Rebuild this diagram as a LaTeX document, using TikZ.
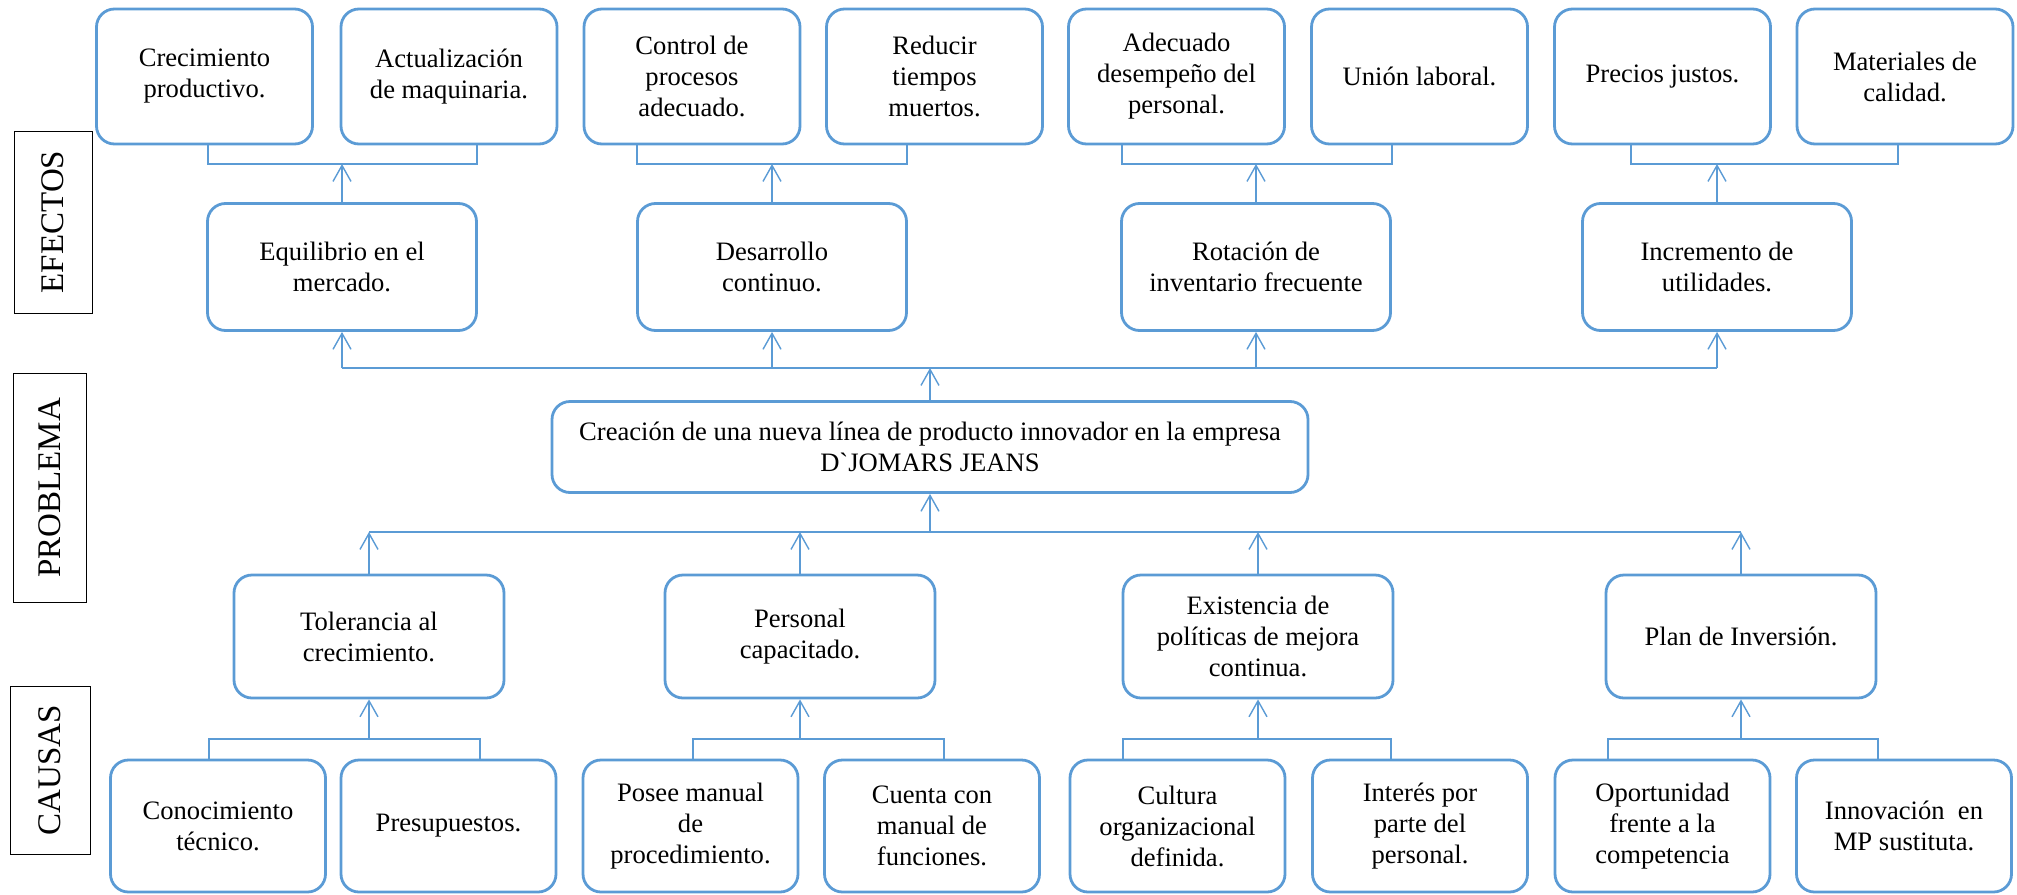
\documentclass[tikz,border=0pt]{standalone}
\usepackage{fontspec}
\setmainfont{Liberation Serif}[Ligatures=TeXOff]
\usetikzlibrary{arrows.meta}
\definecolor{boxblue}{RGB}{91,155,213}

\begin{document}
\begin{tikzpicture}[x=0.5pt,y=-0.5pt,
  card/.style={draw=boxblue,line width=1.4pt,rounded corners=9pt,align=center,inner sep=0pt,font=\fontsize{13.3}{15.5}\selectfont},
  topcard/.style={card,minimum width=108pt,minimum height=67.5pt},
  effcard/.style={card,minimum width=134.5pt,minimum height=63.5pt},
  caucard/.style={card,minimum width=135pt,minimum height=61.5pt},
  botcard/.style={card,minimum width=107.5pt,minimum height=66pt},
  side/.style={draw,line width=0.5pt,rotate=90,inner sep=0pt,font=\fontsize{16.5}{18}\selectfont},
  link/.style={draw=boxblue,line width=0.7pt},
  arr/.style={link,-{Straight Barb[length=8pt,width=9pt]}}]
  \useasboundingbox (0,0) rectangle (2017,894);
  % side labels
  \node[side,minimum width=91pt,minimum height=39pt] (lefe) at (53,222) {EFECTOS};
  \node[side,minimum width=114.5pt,minimum height=36.5pt] (lpro) at (50,488) {PROBLEMA};
  \node[side,minimum width=84pt,minimum height=40pt] (lcau) at (50,770) {CAUSAS};
  % effects, top row
  \node[topcard] (t1) at (204.5,76.5) {Crecimiento\\productivo.};
  \node[topcard] (t2) at (449,76.5) {Actualización\\de maquinaria.};
  \node[topcard] (t3) at (692,76.5) {Control de\\procesos\\adecuado.};
  \node[topcard] (t4) at (934.5,76.5) {Reducir\\tiempos\\muertos.};
  \node[topcard] (t5) at (1176.5,76.5) {Adecuado\\desempeño del\\personal.};
  \node[topcard] (t6) at (1419.5,76.5) {Unión laboral.};
  \node[topcard] (t7) at (1662.5,76.5) {Precios justos.};
  \node[topcard] (t8) at (1905,76.5) {Materiales de\\calidad.};
  % effects
  \node[effcard] (e1) at (342,267) {Equilibrio en el\\mercado.};
  \node[effcard] (e2) at (772,267) {Desarrollo\\continuo.};
  \node[effcard] (e3) at (1256,267) {Rotación de\\inventario frecuente};
  \node[effcard] (e4) at (1717,267) {Incremento de\\utilidades.};
  % problem
  \node[card,minimum width=378pt,minimum height=45.5pt] (prob) at (930,447) {Creación de una nueva línea de producto innovador en la empresa\\D`JOMARS JEANS};
  % causes
  \node[caucard] (c1) at (369,636.5) {Tolerancia al\\crecimiento.};
  \node[caucard] (c2) at (800,636.5) {Personal\\capacitado.};
  \node[caucard] (c3) at (1258,636.5) {Existencia de\\políticas de mejora\\continua.};
  \node[caucard] (c4) at (1741,636.5) {Plan de Inversión.};
  % causes, bottom row
  \node[botcard] (b1) at (218,826) {Conocimiento\\técnico.};
  \node[botcard] (b2) at (448.5,826) {Presupuestos.};
  \node[botcard] (b3) at (690.5,826) {Posee manual\\de\\procedimiento.};
  \node[botcard] (b4) at (932,826) {Cuenta con\\manual de\\funciones.};
  \node[botcard] (b5) at (1177.5,826) {Cultura\\organizacional\\definida.};
  \node[botcard] (b6) at (1420,826) {Interés por\\parte del\\personal.};
  \node[botcard] (b7) at (1662.5,826) {Oportunidad\\frente a la\\competencia};
  \node[botcard] (b8) at (1904,826) {Innovación\ \ en\\MP sustituta.};
  % brackets under the top row
  \coordinate (e1l) at (208,164); \coordinate (e1r) at (477,164);
  \coordinate (e2l) at (637,164); \coordinate (e2r) at (907,164);
  \coordinate (e3l) at (1122,164); \coordinate (e3r) at (1392,164);
  \coordinate (e4l) at (1631,164); \coordinate (e4r) at (1898,164);
  \draw[link] (t1.south -| e1l) -- (e1l) -- (e1r) -- (t2.south -| e1r);
  \draw[link] (t3.south -| e2l) -- (e2l) -- (e2r) -- (t4.south -| e2r);
  \draw[link] (t5.south -| e3l) -- (e3l) -- (e3r) -- (t6.south -| e3r);
  \draw[link] (t7.south -| e4l) -- (e4l) -- (e4r) -- (t8.south -| e4r);
  \draw[arr] (e1.north) -- (e1.north |- e1l);
  \draw[arr] (e2.north) -- (e2.north |- e2l);
  \draw[arr] (e3.north) -- (e3.north |- e3l);
  \draw[arr] (e4.north) -- (e4.north |- e4l);
  % effects bus
  \coordinate (busE) at (934,368);
  \draw[link] (e1.south |- busE) -- (e4.south |- busE);
  \draw[arr] (e1.south |- busE) -- (e1.south);
  \draw[arr] (e2.south |- busE) -- (e2.south);
  \draw[arr] (e3.south |- busE) -- (e3.south);
  \draw[arr] (e4.south |- busE) -- (e4.south);
  \draw[arr] (prob.north) -- (prob.north |- busE);
  % causes bus
  \coordinate (busC) at (934,532);
  \draw[link] (c1.north |- busC) -- (c4.north |- busC);
  \draw[arr] (prob.south |- busC) -- (prob.south);
  \draw[arr] (c1.north) -- (c1.north |- busC);
  \draw[arr] (c2.north) -- (c2.north |- busC);
  \draw[arr] (c3.north) -- (c3.north |- busC);
  \draw[arr] (c4.north) -- (c4.north |- busC);
  % brackets over the bottom row
  \coordinate (c1l) at (209,739); \coordinate (c1r) at (480,739);
  \coordinate (c2l) at (693,739); \coordinate (c2r) at (944,739);
  \coordinate (c3l) at (1123,739); \coordinate (c3r) at (1391,739);
  \coordinate (c4l) at (1608,739); \coordinate (c4r) at (1878,739);
  \draw[link] (b1.north -| c1l) -- (c1l) -- (c1r) -- (b2.north -| c1r);
  \draw[link] (b3.north -| c2l) -- (c2l) -- (c2r) -- (b4.north -| c2r);
  \draw[link] (b5.north -| c3l) -- (c3l) -- (c3r) -- (b6.north -| c3r);
  \draw[link] (b7.north -| c4l) -- (c4l) -- (c4r) -- (b8.north -| c4r);
  \draw[arr] (c1.south |- c1l) -- (c1.south);
  \draw[arr] (c2.south |- c2l) -- (c2.south);
  \draw[arr] (c3.south |- c3l) -- (c3.south);
  \draw[arr] (c4.south |- c4l) -- (c4.south);
\end{tikzpicture}
\end{document}
